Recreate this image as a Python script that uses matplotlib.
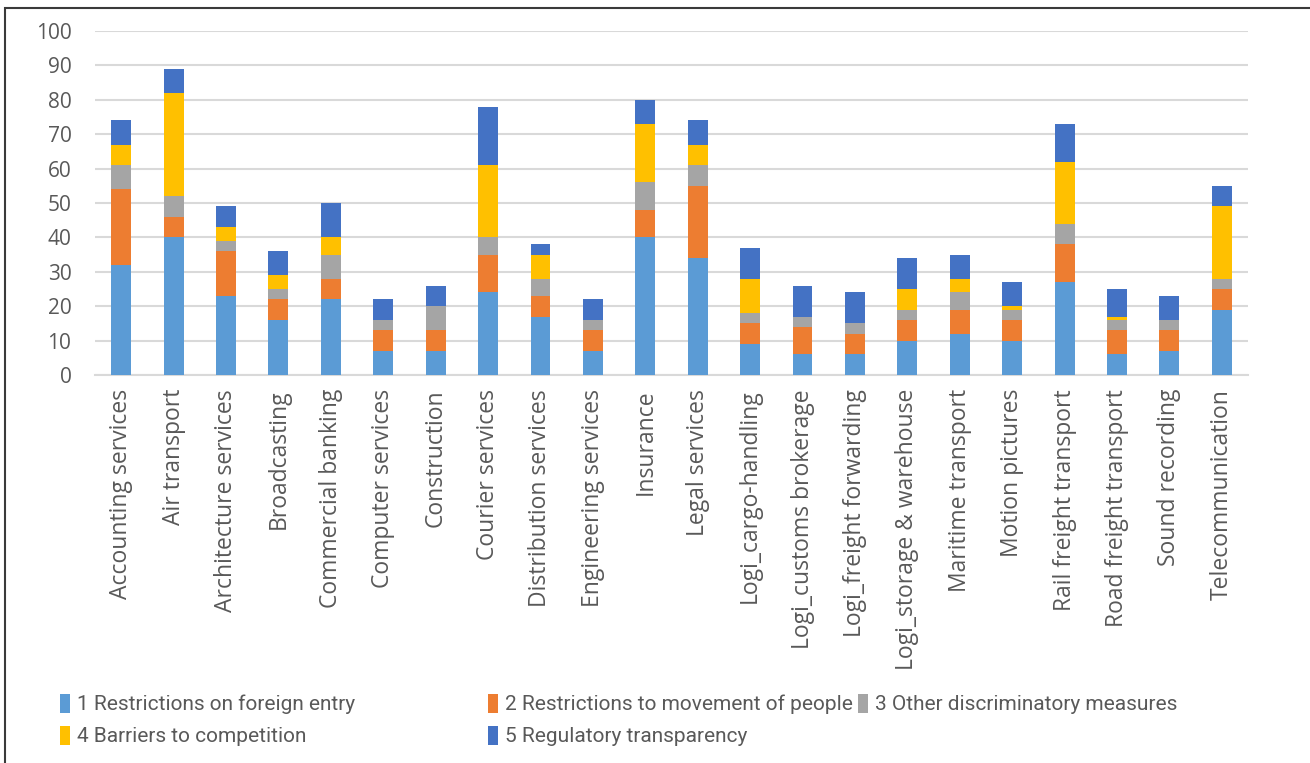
import matplotlib
matplotlib.use("Agg")
import matplotlib.pyplot as plt
from matplotlib.patches import Rectangle, Patch
import numpy as np

categories = [
    "Accounting services", "Air transport", "Architecture services", "Broadcasting",
    "Commercial banking", "Computer services", "Construction", "Courier services",
    "Distribution services", "Engineering services", "Insurance", "Legal services",
    "Logi_cargo-handling", "Logi_customs brokerage", "Logi_freight forwarding",
    "Logi_storage & warehouse", "Maritime transport", "Motion pictures",
    "Rail freight transport", "Road freight transport", "Sound recording",
    "Telecommunication",
]

foreign_entry = [32, 40, 23, 16, 22, 7, 7, 24, 17, 7, 40, 34, 9, 6, 6, 10, 12, 10, 27, 6, 7, 19]
movement_people = [22, 6, 13, 6, 6, 6, 6, 11, 6, 6, 8, 21, 6, 8, 6, 6, 7, 6, 11, 7, 6, 6]
other_discrim = [7, 6, 3, 3, 7, 3, 7, 5, 5, 3, 8, 6, 3, 3, 3, 3, 5, 3, 6, 3, 3, 3]
competition = [6, 30, 4, 4, 5, 0, 0, 21, 7, 0, 17, 6, 10, 0, 0, 6, 4, 1, 18, 1, 0, 21]
transparency = [7, 7, 6, 7, 10, 6, 6, 17, 3, 6, 7, 7, 9, 9, 9, 9, 7, 7, 11, 8, 7, 6]

series_labels = [
    "1 Restrictions on foreign entry",
    "2 Restrictions to movement of people",
    "3 Other discriminatory measures",
    "4 Barriers to competition",
    "5 Regulatory transparency",
]
series_values = [foreign_entry, movement_people, other_discrim, competition, transparency]
colors = ["#5B9BD5", "#ED7D31", "#A5A5A5", "#FFC000", "#4472C4"]

y_ticks = [0, 10, 20, 30, 40, 50, 60, 70, 80, 90, 100]

W, H = 1310, 763
fig = plt.figure(figsize=(W / 100, H / 100), dpi=100)
fig.patch.set_facecolor("white")

ax = fig.add_axes([95 / W, 1 - 375 / H, (1248 - 95) / W, (375 - 31) / H])
x = np.arange(len(categories))
bottom = np.zeros(len(categories))
for vals, col in zip(series_values, colors):
    v = np.array(vals, dtype=float)
    ax.bar(x, v, width=0.38, bottom=bottom, color=col, edgecolor="none", zorder=3)
    bottom += v

ax.set_xlim(-0.5, len(categories) - 0.5)
ax.set_ylim(0, 100)
ax.set_yticks(y_ticks)
ax.set_yticklabels([str(t) for t in y_ticks])
ax.set_xticks(x)
ax.set_xticklabels(categories, rotation=90, va="top", ha="center")
ax.grid(axis="y", color="#D9D9D9", linewidth=1.5, zorder=0)
ax.set_axisbelow(True)
for s in ["top", "right", "left"]:
    ax.spines[s].set_visible(False)
ax.spines["bottom"].set_color("#D9D9D9")
ax.spines["bottom"].set_linewidth(1.5)
ax.tick_params(axis="both", length=0, colors="#595959")
ax.tick_params(axis="y", pad=17, labelsize=15)
ax.tick_params(axis="x", pad=10, labelsize=16.5)
for lab in ax.get_xticklabels() + ax.get_yticklabels():
    lab.set_fontfamily(["Open Sans", "DejaVu Sans"])

# outer frame of the chart area
fig.patches.append(Rectangle((5 / W, -0.1), 1.2, 1 - 8 / H + 0.1, transform=fig.transFigure,
                             fill=False, edgecolor="#3A3A3A", linewidth=1.5, zorder=10))

# legend laid out in fixed-width columns
handles = [Patch(facecolor=c, edgecolor="none") for c in colors]
col_x = [60, 488, 858]
groups = [[0, 3], [1, 4], [2]]
for cx, idx in zip(col_x, groups):
    leg = fig.legend([handles[i] for i in idx], [series_labels[i] for i in idx],
                     loc="upper left", bbox_to_anchor=(cx / W, 1 - 694 / H),
                     frameon=False, ncol=1, handlelength=0.5, handleheight=1.0,
                     handletextpad=0.3, labelspacing=0.55, borderpad=0, borderaxespad=0,
                     prop={"family": ["Roboto", "DejaVu Sans"], "size": 15})
    for t in leg.get_texts():
        t.set_color("#595959")

fig.savefig("out.png", dpi=100)
